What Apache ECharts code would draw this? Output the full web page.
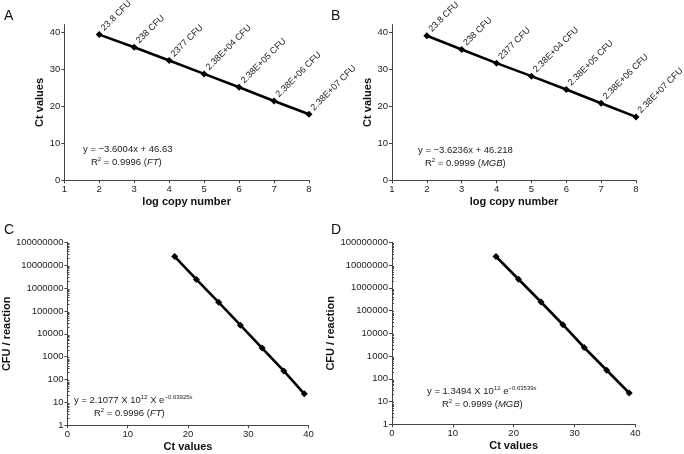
<!DOCTYPE html>
<html><head><meta charset="utf-8">
<script src="https://cdn.jsdelivr.net/npm/echarts@6/dist/echarts.min.js"></script>
<style>html,body{margin:0;padding:0;background:#fff}#c{width:684px;height:454px}</style>
</head><body><div id="c"></div>
<script>
// ---- data ----
const logCopyNumber = [2, 3, 4, 5, 6, 7, 8];
const cfuLabels = ['23.8 CFU', '238 CFU', '2377 CFU', '2.38E+04 CFU', '2.38E+05 CFU', '2.38E+06 CFU', '2.38E+07 CFU'];
const cfuPerReaction = [23.8, 238, 2377, 23800, 238000, 2380000, 23800000];
const ctFT = [39.3, 35.9, 32.3, 28.7, 25.1, 21.4, 17.8];
const ctMGB = [39.0, 35.3, 31.6, 28.1, 24.5, 20.8, 17.1];
const ctTicks = [0, 10, 20, 30, 40];
const logCopyTicks = [1, 2, 3, 4, 5, 6, 7, 8];
const cfuTicks = [1, 10, 100, 1000, 10000, 100000, 1000000, 10000000, 100000000];
const eqA = ['y = −3.6004x + 46.63', 'R{s|2} = 0.9996 ({i|FT})'];
const eqB = ['y = −3.6236x + 46.218', 'R{s|2} = 0.9999 ({i|MGB})'];
const eqC = ['y = 2.1077 X 10{s|12} X e{s|−0.63925x}', 'R{s|2} = 0.9996 ({i|FT})'];
const eqD = ['y = 1.3494 X 10{s|12} e{s|−0.63539x}', 'R{s|2} = 0.9999 ({i|MGB})'];

const FONT = "'Liberation Sans', Arial, Helvetica, sans-serif";
const AX = '#444';
const chart = echarts.init(document.getElementById('c'));

function xAx(gi, min, max, interval, name) {
  return {
    type: 'value', gridIndex: gi, min: min, max: max, interval: interval,
    name: name, nameLocation: 'middle', nameGap: 16,
    nameTextStyle: { fontFamily: FONT, fontWeight: 'bold', fontSize: 11, color: '#111' },
    axisLine: { show: true, lineStyle: { color: AX, width: 1 } },
    axisTick: { show: true, length: 3, lineStyle: { color: AX } },
    axisLabel: { fontFamily: FONT, fontSize: 9.5, color: '#222', margin: 4 },
    splitLine: { show: false }
  };
}
function yLin(gi) {
  return {
    type: 'value', gridIndex: gi, min: 0, max: 42,
    name: 'Ct values', nameLocation: 'middle', nameGap: 18,
    nameTextStyle: { fontFamily: FONT, fontWeight: 'bold', fontSize: 11, color: '#111' },
    axisLine: { show: true, lineStyle: { color: AX, width: 1 } },
    axisTick: { show: true, length: 3, lineStyle: { color: AX }, customValues: ctTicks },
    axisLabel: { fontFamily: FONT, fontSize: 9.5, color: '#222', margin: 4, customValues: ctTicks },
    splitLine: { show: false }
  };
}
function yLog(gi) {
  return {
    type: 'log', logBase: 10, gridIndex: gi, min: 1, max: 100000000, position: 'left',
    name: 'CFU / reaction', nameLocation: 'middle', nameGap: 51,
    nameTextStyle: { fontFamily: FONT, fontWeight: 'bold', fontSize: 11, color: '#111' },
    axisLine: { show: true, lineStyle: { color: AX, width: 1 } },
    axisTick: { show: true, length: 3, lineStyle: { color: AX } },
    axisLabel: { fontFamily: FONT, fontSize: 9.5, color: '#222', margin: 4,
      formatter: v => String(Math.round(v)) },
    splitLine: { show: false }
  };
}
function yLogMinor(gi) {
  return {
    type: 'log', logBase: 10, gridIndex: gi, min: 1, max: 100000000, position: 'left', offset: 0,
    axisLine: { show: false }, axisLabel: { show: false },
    axisTick: { show: false, inside: true },
    minorTick: { show: true, splitNumber: 9, length: 2, lineStyle: { color: AX } },
    splitLine: { show: false }
  };
}
function lineSeries(xi, yi, data, withLabels) {
  return {
    type: 'line', xAxisIndex: xi, yAxisIndex: yi, data: data,
    symbol: 'diamond', symbolSize: 7,
    lineStyle: { color: '#000', width: 2.6 },
    itemStyle: { color: '#000' },
    label: withLabels ? {
      show: true, position: [10, 1.5], rotate: 45,
      align: 'left', verticalAlign: 'bottom',
      fontFamily: FONT, fontSize: 9, color: '#222',
      formatter: p => cfuLabels[p.dataIndex]
    } : { show: false },
    z: 3
  };
}
function eqText(lines, x1, y1, x2, y2) {
  const rich = {
    s: { fontSize: 6, verticalAlign: 'top', lineHeight: 12, fontFamily: FONT, fill: '#222' },
    i: { fontStyle: 'italic', fontSize: 9.5, fontFamily: FONT, fill: '#222' }
  };
  return [
    { type: 'text', x: x1, y: y1, style: { text: lines[0], font: '9.5px ' + FONT, fill: '#222',
      verticalAlign: 'middle', align: 'left', lineHeight: 12, rich: rich } },
    { type: 'text', x: x2, y: y2, style: { text: lines[1], font: '9.5px ' + FONT, fill: '#222',
      verticalAlign: 'middle', align: 'left', lineHeight: 12, rich: rich } }
  ];
}
function letter(t, x, y) {
  return { type: 'text', x: x, y: y, style: { text: t, font: '14px ' + FONT, fill: '#111' } };
}

const option = {
  animation: false,
  backgroundColor: '#fff',
  grid: [
    { left: 64.3, top: 24.6, width: 244.7, height: 155.7 },
    { left: 392, top: 24.6, width: 244, height: 155.7 },
    { left: 64.3, top: 242.3, width: 244.2, height: 183 },
    { left: 392, top: 242.3, width: 243.3, height: 182 }
  ],
  xAxis: [
    xAx(0, 1, 8, 1, 'log copy number'),
    xAx(1, 1, 8, 1, 'log copy number'),
    xAx(2, 0, 40, 10, 'Ct values'),
    xAx(3, 0, 40, 10, 'Ct values')
  ],
  yAxis: [yLin(0), yLin(1), yLog(2), yLog(3), yLogMinor(2), yLogMinor(3)],
  series: [
    lineSeries(0, 0, logCopyNumber.map((x, i) => [x, ctFT[i]]), true),
    lineSeries(1, 1, logCopyNumber.map((x, i) => [x, ctMGB[i]]), true),
    lineSeries(2, 2, ctFT.map((c, i) => [c, cfuPerReaction[i]]), false),
    lineSeries(3, 3, ctMGB.map((c, i) => [c, cfuPerReaction[i]]), false)
  ],
  graphic: [
    letter('A', 4, 9), letter('B', 331, 9), letter('C', 4, 223), letter('D', 331, 223)
  ].concat(eqText(eqA, 83, 149, 91, 162.5))
   .concat(eqText(eqB, 418, 150, 425, 163))
   .concat(eqText(eqC, 74, 400, 94, 413))
   .concat(eqText(eqD, 427, 391, 442, 404))
};
chart.setOption(option);
</script></body></html>
